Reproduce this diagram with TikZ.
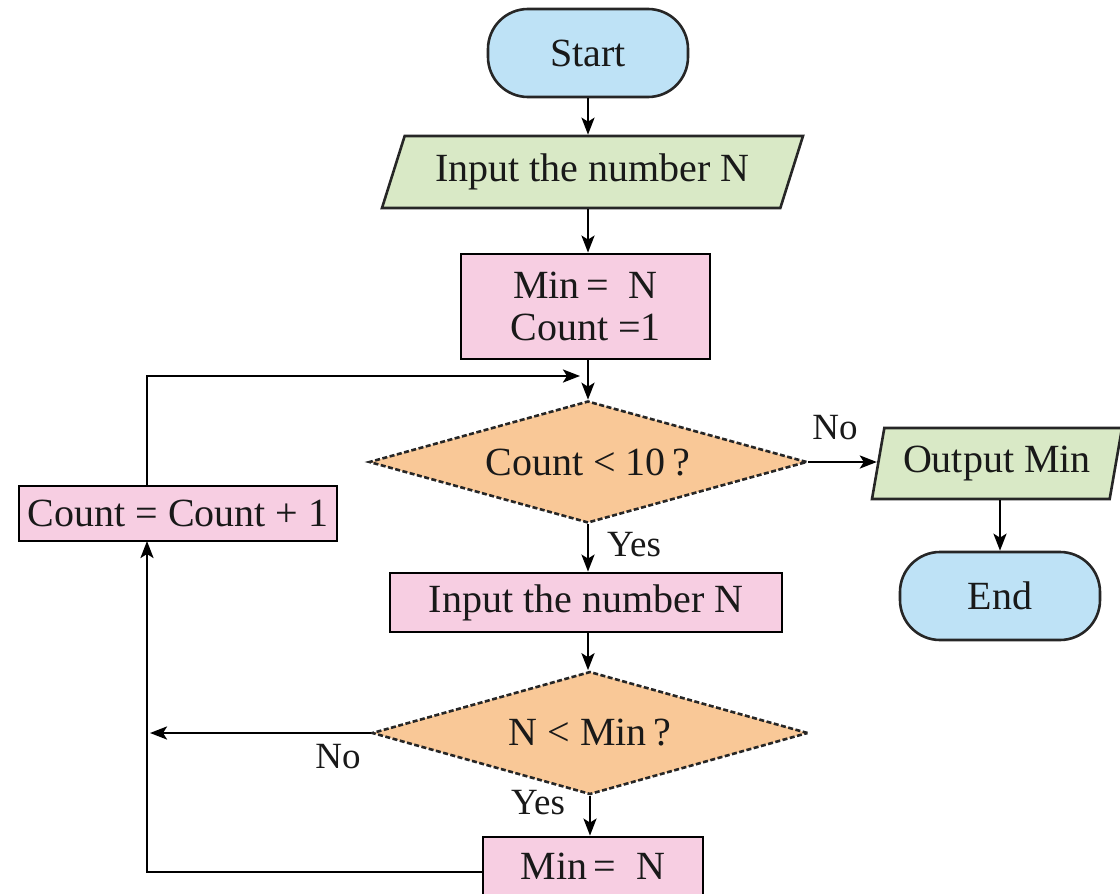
\documentclass[tikz,border=0pt]{standalone}
\usepackage{fontspec}
\setmainfont{Liberation Serif}
\usetikzlibrary{shapes.geometric,arrows.meta}
\definecolor{termblue}{HTML}{BEE2F6}
\definecolor{iogreen}{HTML}{D9E9C6}
\definecolor{procpink}{HTML}{F7CEE2}
\definecolor{decorange}{HTML}{F9C897}
\tikzset{
  every node/.style={font=\fontsize{40}{46}\selectfont, text=black!90},
  term/.style={draw=black!85, line width=2.6pt, fill=termblue, rounded corners=40pt,
    minimum width=200pt, minimum height=88pt, inner sep=0pt},
  iobox/.style={draw=black!85, line width=2.6pt, fill=iogreen, trapezium,
    trapezium stretches body, inner sep=0pt},
  procbox/.style={draw=black, line width=2.8pt, fill=procpink, rectangle, inner sep=0pt},
  decbox/.style={draw=black!85, line width=2.6pt, fill=decorange, diamond, aspect=3.6,
    dash pattern=on 5pt off 2.5pt, inner sep=0pt},
  arr/.style={line width=2.6pt, -{Stealth[length=17pt,width=13pt,inset=4pt]}},
  ln/.style={line width=2.6pt},
  lbl/.style={font=\fontsize{37}{42}\selectfont, inner sep=0pt}
}
\begin{document}
\begin{tikzpicture}[x=1pt,y=-1pt]
\useasboundingbox (0,0) rectangle (1120,894);
\begin{scope}
\clip (0,0) rectangle (1120,894);
% nodes
\node[term] (start) at (588,53) {Start};
\node[iobox, trapezium left angle=58, trapezium right angle=122,
  minimum width=421pt, minimum height=72pt] (in1) at (592.5,172) {Input the number N};
\node[procbox, minimum width=249pt, minimum height=105pt, align=center] (init) at (585.5,306.5)
  {Min\,=\ \ N\\[-4pt]Count =1};
\node[decbox, minimum width=438pt, minimum height=122pt] (d1) at (588,462) {Count < 10\,?};
\node[iobox, trapezium left angle=70.6, trapezium right angle=109.4,
  minimum width=250pt, minimum height=71pt] (out) at (997,463.5) {Output Min};
\node[term] (end) at (1000,596) {End};
\node[procbox, minimum width=318pt, minimum height=55pt] (cnt) at (178,513.5) {Count = Count + 1};
\node[procbox, minimum width=392pt, minimum height=59pt] (in2) at (586,602.5) {Input the number N};
\node[decbox, minimum width=436pt, minimum height=123pt] (d2) at (590,733) {N < Min\,?};
\node[procbox, minimum width=220pt, minimum height=70pt] (min2) at (593,872) {};
\node (min2t) at (593,866) {Min\,=\ \ N};
% helper coordinates
\coordinate (join) at (580,376);
\coordinate (ctop) at (147,486);
\coordinate (cbot) at (147,541);
\coordinate (nohit) at (150,733);
% connectors
\draw[arr] (start.south) -- (start.south |- in1.north);
\draw[arr] (start.south |- in1.south) -- (start.south |- init.north);
\draw[arr] (d1.north |- init.south) -- (d1.north);
\draw[arr] (ctop) |- (join);
\draw[arr] (d1.east) -- (d1.east -| out.west);
\draw[arr] (end.north |- out.south) -- (end.north);
\draw[arr] (d1.south) -- (d1.south |- in2.north);
\draw[arr] (d1.south |- in2.south) -- (d1.south |- d2.north);
\draw[arr] (d2.west) -- (nohit);
\draw[arr] (d2.south) -- (d2.south |- min2.north);
\draw[ln] (min2.west) -| (147,800);
\draw[arr] (147,800) -- (cbot);
% labels
\node[lbl] (lno1) at (835,428) {No};
\node[lbl] (lyes1) at (634,545) {Yes};
\node[lbl] (lno2) at (338,757) {No};
\node[lbl] (lyes2) at (538,803) {Yes};
\end{scope}
\end{tikzpicture}
\end{document}
